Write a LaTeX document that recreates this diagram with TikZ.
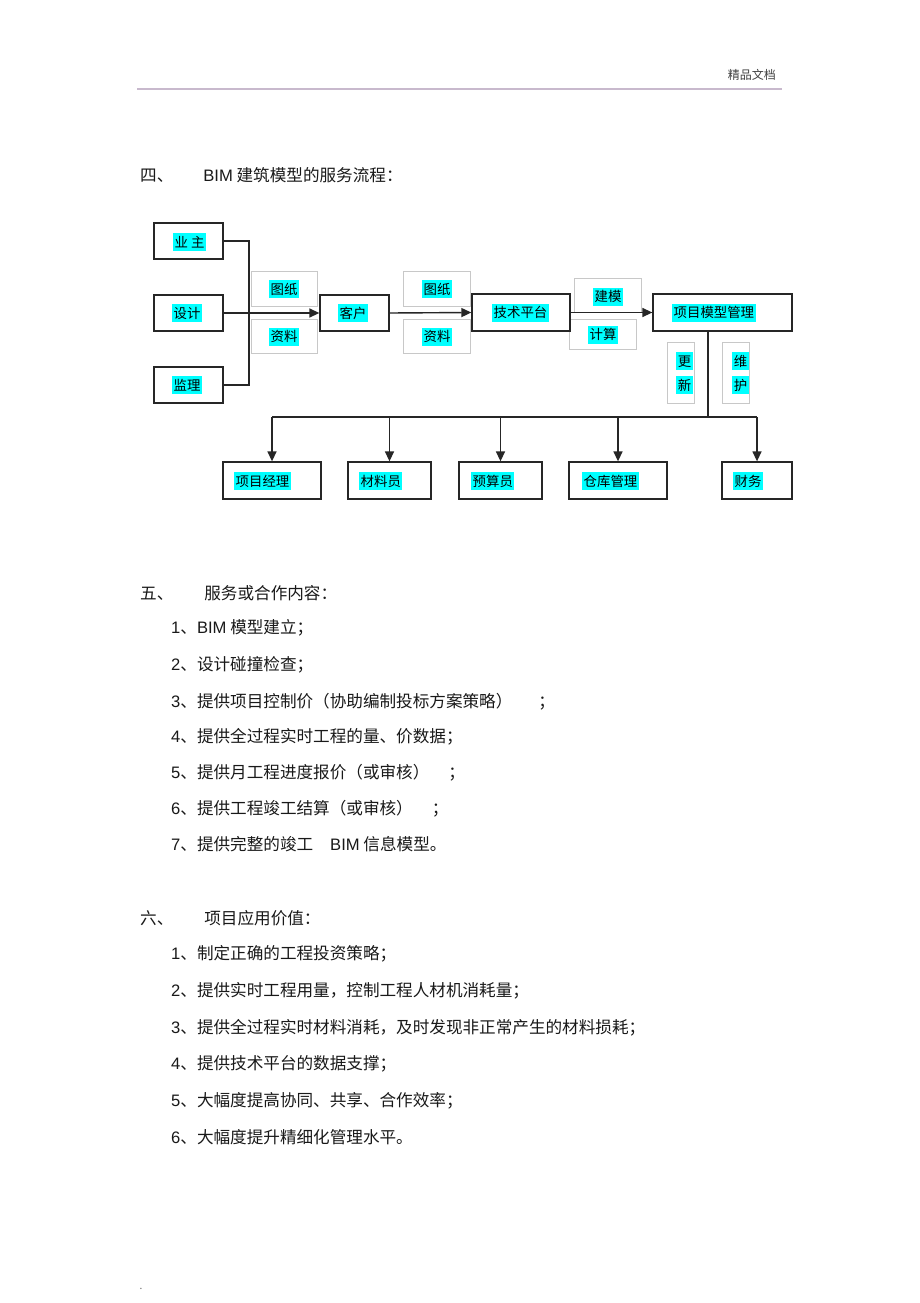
\documentclass[tikz,border=0pt]{standalone}
\usepackage{fontspec}
\setmainfont{Noto Sans CJK SC}
\newfontfamily\latn{Liberation Sans}
\usetikzlibrary{arrows.meta}
\definecolor{hdrline}{RGB}{200,185,205}
\definecolor{lightedge}{RGB}{200,200,200}
\definecolor{hlcyan}{RGB}{0,255,255}
\newcommand\nm[1]{{\latn #1}}
\newcommand\bodyfont{\fontsize{16.6pt}{20pt}\selectfont}
\newcommand\dgfont{\fontsize{13.4pt}{15pt}\selectfont}
\begin{document}
\begin{tikzpicture}[x=1pt,y=-1pt,
  mainbox/.style={draw=black!85, line width=1.3pt, inner sep=0pt},
  lbox/.style={draw=lightedge, line width=0.8pt, inner sep=0pt},
  hl/.style={fill=hlcyan, inner xsep=1.5pt, inner ysep=0pt, text height=14pt, text depth=4pt, font=\dgfont, anchor=west},
  hlc/.style={hl, anchor=center},
  conn/.style={draw=black!85, line width=1.4pt},
  arr/.style={conn, -{Triangle[length=10pt,width=9pt]}},
  item/.style={anchor=west, inner sep=0pt, font=\bodyfont, text=black!90, text height=14.6pt, text depth=2pt}
]
\useasboundingbox[fill=white] (0,0) rectangle (920,1303);

% header
\node[anchor=east, inner sep=0pt, font=\fontsize{12pt}{14pt}\selectfont, text=black!75] (hdr) at (776,75) {精品文档};
\draw[line width=1.2pt, hdrline] (137,89) -- (782,89);

% heading 4
\node[item] (h4) at (140,175) {四、\hspace{30pt}\nm{BIM} 建筑模型的服务流程：};

% light boxes
\node[lbox, minimum width=66pt, minimum height=35pt] (tz1) at (284,288.5) {};
\node[lbox, minimum width=66pt, minimum height=34pt] (zl1) at (284,336) {};
\node[lbox, minimum width=67pt, minimum height=35pt] (tz2) at (436.5,288.5) {};
\node[lbox, minimum width=67pt, minimum height=34pt] (zl2) at (436.5,336) {};
\node[lbox, minimum width=67pt, minimum height=34pt] (jm) at (607.5,295) {};
\node[lbox, minimum width=67pt, minimum height=30pt] (jsu) at (602.5,334) {};
\node[lbox, minimum width=27pt, minimum height=61pt] (gx) at (680.5,372.5) {};
\node[lbox, minimum width=27pt, minimum height=61pt] (wh) at (735.5,372.5) {};

% main boxes
\node[mainbox, minimum width=69pt, minimum height=36pt] (yz) at (188.5,241) {};
\node[mainbox, minimum width=69pt, minimum height=36pt] (sj) at (188.5,313) {};
\node[mainbox, minimum width=69pt, minimum height=36pt] (jl) at (188.5,385) {};
\node[mainbox, minimum width=69pt, minimum height=36pt] (kh) at (354.5,313) {};
\node[mainbox, minimum width=98pt, minimum height=37pt] (js) at (521,312.5) {};
\node[mainbox, minimum width=139pt, minimum height=37pt] (pm) at (722.5,312.5) {};
\node[mainbox, minimum width=98pt, minimum height=37pt] (xm) at (272,480.5) {};
\node[mainbox, minimum width=83pt, minimum height=37pt] (cl) at (389.5,480.5) {};
\node[mainbox, minimum width=83pt, minimum height=37pt] (ys) at (500.5,480.5) {};
\node[mainbox, minimum width=98pt, minimum height=37pt] (ck) at (618,480.5) {};
\node[mainbox, minimum width=70pt, minimum height=37pt] (cw) at (757,480.5) {};

% connectors
\coordinate (bj) at (249,313);
\draw[conn] (yz.east) -- (yz.east -| bj) -- (jl.east -| bj) -- (jl.east);
\draw[arr] (sj.east) -- (kh.west);
\draw[arr] (kh.east) -- (js.west);
\draw[arr] (js.east) -- (pm.west);
\coordinate (trunk) at (708,417);
\draw[conn] (pm.south -| trunk) -- (trunk);
\draw[conn] (xm.north |- trunk) -- (cw.north |- trunk);
\foreach \n in {xm,cl,ys,ck,cw} \draw[arr] (\n.north |- trunk) -- (\n.north);

% labels
\node[hl] (tyz) at (173,242) {业\hspace{3pt}主};
\node[hl] (tsj) at (172,313) {设计};
\node[hl] (tjl) at (172,385) {监理};
\node[hl] (tkh) at (338,313) {客户};
\node[hl] (ttz1) at (269,289) {图纸};
\node[hl] (tzl1) at (269,336.5) {资料};
\node[hl] (ttz2) at (422,289) {图纸};
\node[hl] (tzl2) at (422,336.5) {资料};
\node[hl] (tjs) at (492,312.5) {技术平台};
\node[hl] (tjm) at (593,296.5) {建模};
\node[hl] (tjsu) at (588,334.5) {计算};
\node[hl] (tpm) at (672,312.5) {项目模型管理};
\node[hlc] (tgx1) at (684.5,361) {更};
\node[hlc] (tgx2) at (684.5,385) {新};
\node[hlc] (twh1) at (740.5,361) {维};
\node[hlc] (twh2) at (740.5,385) {护};
\node[hl] (txm) at (234,481) {项目经理};
\node[hl] (tcl) at (359,481) {材料员};
\node[hl] (tys) at (471,481) {预算员};
\node[hl] (tck) at (582,481) {仓库管理};
\node[hl] (tcw) at (733,481) {财务};

% section 5
\node[item] (h5) at (140,593) {五、\hspace{31pt}服务或合作内容：};
\node[item] (a1) at (171,627) {\nm{1}、\nm{BIM} 模型建立；};
\node[item] (a2) at (171,664) {\nm{2}、设计碰撞检查；};
\node[item] (a3) at (171,701) {\nm{3}、提供项目控制价（协助编制投标方案策略）\hspace{26pt}；};
\node[item] (a4) at (171,736) {\nm{4}、提供全过程实时工程的量、价数据；};
\node[item] (a5) at (171,772) {\nm{5}、提供月工程进度报价（或审核）\hspace{19pt}；};
\node[item] (a6) at (171,808) {\nm{6}、提供工程竣工结算（或审核）\hspace{19pt}；};
\node[item] (a7) at (171,844) {\nm{7}、提供完整的竣工\hspace{17pt}\nm{BIM} 信息模型。};

% section 6
\node[item] (h6) at (140,918) {六、\hspace{31pt}项目应用价值：};
\node[item] (b1) at (171,953) {\nm{1}、制定正确的工程投资策略；};
\node[item] (b2) at (171,990) {\nm{2}、提供实时工程用量，控制工程人材机消耗量；};
\node[item] (b3) at (171,1027) {\nm{3}、提供全过程实时材料消耗，及时发现非正常产生的材料损耗；};
\node[item] (b4) at (171,1063) {\nm{4}、提供技术平台的数据支撑；};
\node[item] (b5) at (171,1100) {\nm{5}、大幅度提高协同、共享、合作效率；};
\node[item] (b6) at (171,1137) {\nm{6}、大幅度提升精细化管理水平。};

\node[inner sep=0pt, font=\fontsize{10pt}{12pt}\selectfont, text=black!60] (dot) at (141,1289) {.};
\end{tikzpicture}
\end{document}
